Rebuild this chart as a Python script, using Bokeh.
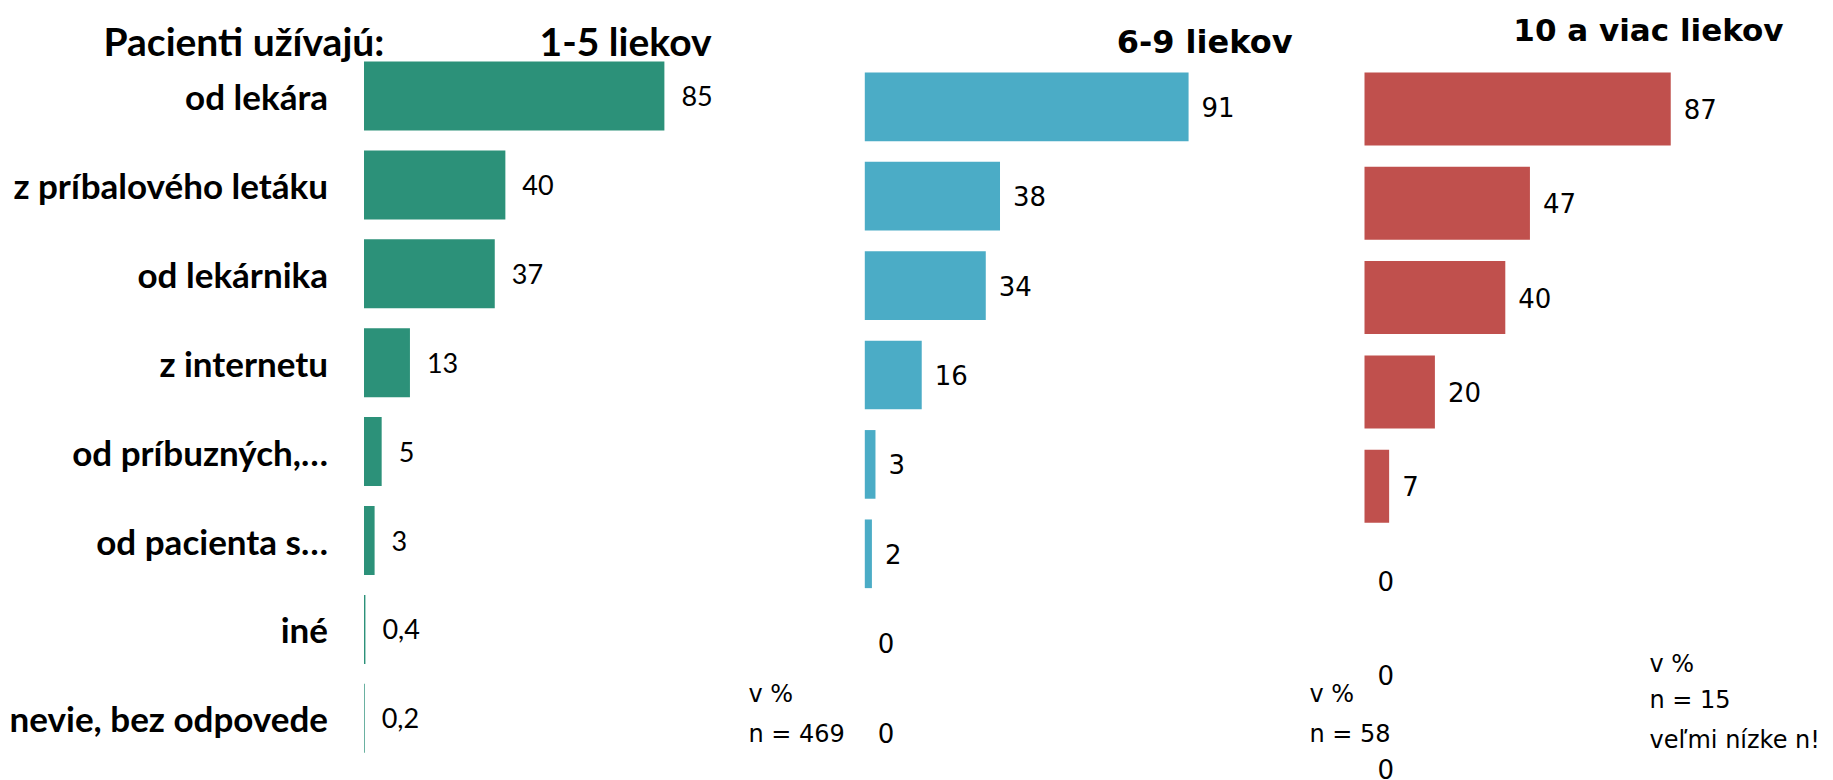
from bokeh.plotting import figure
from bokeh.models import Range1d, ColumnDataSource
from bokeh.core.properties import value
from bokeh.embed import file_html
from bokeh.resources import INLINE

# ---------------- data ----------------
categories = ["od lekára", "z príbalového letáku", "od lekárnika", "z internetu",
              "od príbuzných,…", "od pacienta s…", "iné", "nevie, bez odpovede"]
values_1_5 = [85, 40, 37, 13, 5, 3, 0.4, 0.2]
values_6_9 = [91, 38, 34, 16, 3, 2, 0, 0]
values_10 = [87, 47, 40, 20, 7, 0, 0, 0]
panel_titles = ["1-5 liekov", "6-9 liekov", "10 a viac liekov"]
main_title = "Pacienti užívajú:"
note_6_9 = ["v %", "n = 469"]
note_10_left = ["v %", "n = 58"]
note_10_right = ["v %", "n = 15", "veľmi nízke n!"]

# ---------------- layout / style ----------------
W, H = 1833, 780
NARROW = "Lato"
WIDE = "DejaVu Sans"
panels = [
    # x0 (bar origin px), px per unit, first row centre px, row pitch px, bar height, colour
    dict(name="p1", vals=values_1_5, x0=363.5, ppu=3.534, c0=95.5, pitch=88.9, h=0.776, color="#2C9179",
         font=NARROW, size="27px", gap=17),
    dict(name="p2", vals=values_6_9, x0=864.3, ppu=3.558, c0=106.3, pitch=89.4, h=0.768, color="#4BACC6",
         font=WIDE, size="26px", gap=13),
    dict(name="p3", vals=values_10, x0=1364.0, ppu=3.52, c0=108.5, pitch=94.3, h=0.774, color="#C0504D",
         font=WIDE, size="26px", gap=13),
]

p = figure(width=W, height=H, output_backend="svg", toolbar_location=None,
           x_range=Range1d(0, W), y_range=Range1d(H, 0),
           x_axis_location=None, y_axis_location=None, min_border=0)
p.grid.visible = False
p.outline_line_color = None
p.background_fill_color = "white"
p.border_fill_color = "white"

def fmt(v):
    return ("%g" % v).replace(".", ",")

for pn in panels:
    xr = Range1d(-pn["x0"] / pn["ppu"], (W - pn["x0"]) / pn["ppu"])
    yr = Range1d((H - pn["c0"]) / pn["pitch"], -pn["c0"] / pn["pitch"])
    p.extra_x_ranges[pn["name"]] = xr
    p.extra_y_ranges[pn["name"]] = yr
    idx = list(range(len(pn["vals"])))
    src = ColumnDataSource(dict(y=idx, v=pn["vals"], lab=[fmt(v) for v in pn["vals"]]))
    p.hbar(y="y", left=0, right="v", height=pn["h"], source=src, fill_color=pn["color"],
           line_color=None, x_range_name=pn["name"], y_range_name=pn["name"])
    p.text(x="v", y="y", text="lab", source=src, x_offset=pn["gap"], text_align="left",
           text_baseline="middle", text_font=value(pn["font"]), text_font_size=pn["size"],
           text_color="black", x_range_name=pn["name"], y_range_name=pn["name"])
    if pn["name"] == "p1":
        csrc = ColumnDataSource(dict(y=idx, x=[0] * len(idx), c=categories))
        p.text(x="x", y="y", text="c", source=csrc, x_offset=-36, text_align="right",
               text_baseline="middle", text_font=value(NARROW), text_font_size="35px",
               text_font_style="bold", text_color="black",
               x_range_name=pn["name"], y_range_name=pn["name"])

# titles
p.text(x=[103], y=[40], text=[main_title], text_align="left", text_baseline="middle",
       text_font=value(NARROW), text_font_size="39px", text_font_style="bold", text_color="black")
p.text(x=[711], y=[40], text=[panel_titles[0]], text_align="right", text_baseline="middle",
       text_font=value(NARROW), text_font_size="39px", text_font_style="bold", text_color="black")
p.text(x=[1292], y=[41], text=[panel_titles[1]], text_align="right", text_baseline="middle",
       text_font=value(WIDE), text_font_size="32px", text_font_style="bold", text_color="black")
p.text(x=[1783], y=[29], text=[panel_titles[2]], text_align="right", text_baseline="middle",
       text_font=value(WIDE), text_font_size="31px", text_font_style="bold", text_color="black")

# notes
def note(lines, x, ys):
    p.text(x=[x] * len(lines), y=ys, text=lines, text_align="left", text_baseline="middle",
           text_font=value(WIDE), text_font_size="24px", text_color="black")

note(note_6_9, 748, [693, 733])
note(note_10_left, 1309, [693, 733])
note(note_10_right, 1649, [663, 699, 739])

open("out.html", "w").write(file_html(p, INLINE))
